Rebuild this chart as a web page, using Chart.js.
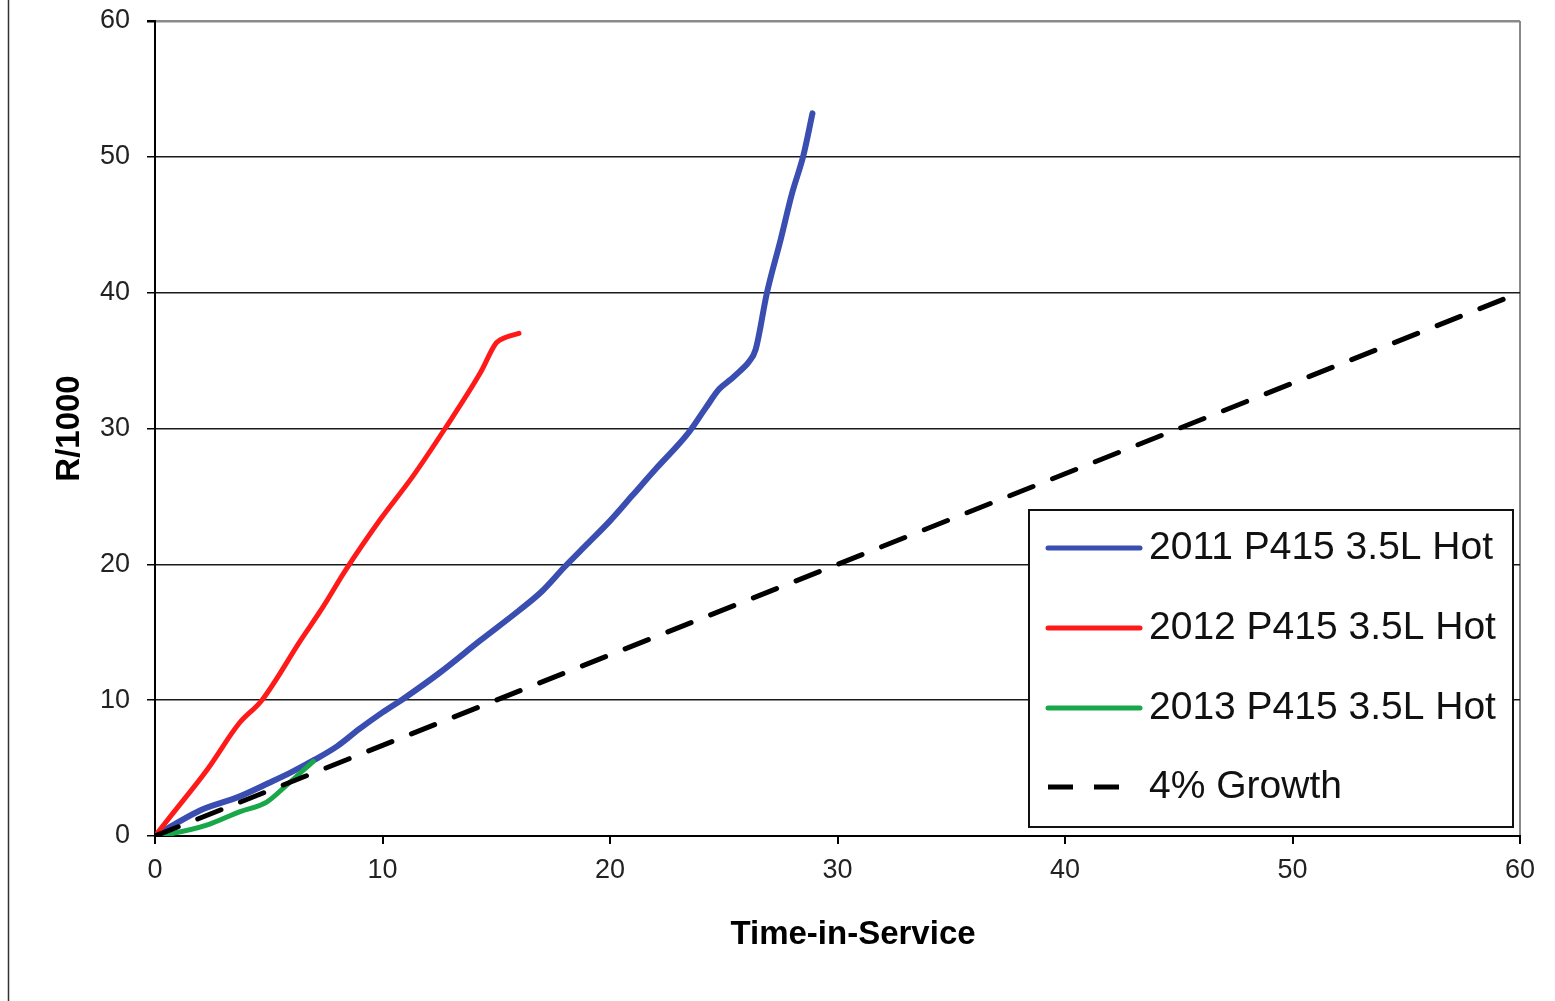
<!DOCTYPE html>
<html>
<head>
<meta charset="utf-8">
<script src="https://cdn.jsdelivr.net/npm/chart.js@4.4.1/dist/chart.umd.min.js"></script>
<style>
  html, body { margin: 0; padding: 0; background: #fff; }
  canvas { display: block; }
</style>
</head>
<body>
<canvas id="grafico" width="1555" height="1001"></canvas>
<script>
// series (x = time-in-service, y = R/1000)
var series2011X = [0, 0.8, 2, 3.7, 5, 6, 7, 8, 9, 10, 11, 12.5, 14.3, 16, 17, 18, 19, 20, 21, 22, 23, 23.5, 24.2, 24.8, 25.3, 25.7, 26.1, 26.4, 26.9, 27.5, 28, 28.5, 28.9];
var series2011Y = [0, 0.8, 1.9, 2.9, 3.9, 4.7, 5.6, 6.6, 7.9, 9.1, 10.2, 12, 14.4, 16.6, 18, 19.8, 21.5, 23.2, 25.1, 27, 28.8, 29.8, 31.5, 32.9, 33.6, 34.2, 34.9, 35.8, 40, 43.9, 47.3, 50.1, 53.2];

var series2012X = [0, 0.8, 2.3, 3.7, 4.7, 6.4, 7.4, 8.35, 9.9, 11.3, 12.75, 14.3, 15, 15.4, 16];
var series2012Y = [0, 1.7, 4.9, 8.3, 10, 14.4, 16.9, 19.5, 23.3, 26.4, 30, 34.1, 36.3, 36.7, 37];

var series2013X = [0, 0.8, 2.27, 3.74, 4.91, 5.79, 6.96];
var series2013Y = [0, 0.2, 0.8, 1.8, 2.5, 3.75, 5.5];

var growthX = [0, 60];
var growthY = [0, 40];

var etiquetas = ['2011 P415 3.5L Hot', '2012 P415 3.5L Hot', '2013 P415 3.5L Hot', '4% Growth'];
var tituloX = 'Time-in-Service';
var tituloY = 'R/1000';

function puntos(xs, ys) {
    return xs.map(function (x, i) { return { x: x, y: ys[i] }; });
}

Chart.defaults.font.family = 'Arial, "Liberation Sans", sans-serif';

/* legend box inside the plot, x title, left page border */
var leyendaPlugin = {
    id: 'leyenda',
    beforeDraw: function (chart) {
        var c = chart.ctx;
        c.save();
        c.strokeStyle = '#333';
        c.lineWidth = 1.5;
        c.beginPath();
        c.moveTo(8.5, 0);
        c.lineTo(8.5, 1001);
        c.stroke();
        c.restore();
    },
    afterDraw: function (chart) {
        var c = chart.ctx;
        c.save();
        c.fillStyle = '#000';
        c.font = 'bold 33px Arial, "Liberation Sans", sans-serif';
        c.textAlign = 'center';
        c.textBaseline = 'middle';
        c.fillText(tituloX, 853, 935);

        c.fillStyle = '#fff';
        c.fillRect(1028, 509, 486, 319);
        c.strokeStyle = '#111';
        c.lineWidth = 2;
        c.strokeRect(1029, 510, 484, 317);
        var filas = [548, 628, 708, 787];
        chart.data.datasets.forEach(function (ds, i) {
            var y = filas[i];
            c.strokeStyle = ds.borderColor;
            c.lineWidth = 5;
            c.lineCap = ds.borderDash ? 'butt' : 'round';
            c.setLineDash(ds.borderDash || []);
            c.beginPath();
            c.moveTo(1048, y);
            c.lineTo(1140, y);
            c.stroke();
            c.setLineDash([]);
            c.fillStyle = '#111';
            c.font = '39px Arial, "Liberation Sans", sans-serif';
            c.textBaseline = 'middle';
            c.textAlign = 'left';
            c.fillText(ds.label, 1149, y);
        });
        c.restore();
    }
};

var ctx = document.getElementById('grafico');
var grafico = new Chart(ctx, {
    type: 'line',
    data: {
        datasets: [
            {
                label: etiquetas[0],
                data: puntos(series2011X, series2011Y),
                borderColor: '#3a4db1',
                borderWidth: 6,
                cubicInterpolationMode: 'monotone',
                order: 4
            },
            {
                label: etiquetas[1],
                data: puntos(series2012X, series2012Y),
                borderColor: '#ff1a1a',
                borderWidth: 5,
                cubicInterpolationMode: 'monotone',
                order: 3
            },
            {
                label: etiquetas[2],
                data: puntos(series2013X, series2013Y),
                borderColor: '#18a84a',
                borderWidth: 5,
                cubicInterpolationMode: 'monotone',
                order: 2
            },
            {
                label: etiquetas[3],
                data: puntos(growthX, growthY),
                borderColor: '#000',
                borderWidth: 5,
                borderDash: [25, 21],
                order: 1
            }
        ]
    },
    options: {
        responsive: false,
        animation: false,
        layout: { padding: { top: 21, right: 35, left: 0, bottom: 0 } },
        elements: { point: { radius: 0 }, line: { borderCapStyle: 'round', borderJoinStyle: 'round' } },
        plugins: { legend: { display: false }, tooltip: { enabled: false } },
        scales: {
            x: {
                type: 'linear', min: 0, max: 60,
                ticks: { stepSize: 10, padding: 10, color: '#222', font: { size: 27 } },
                grid: {
                    color: function (c) { return c.tick && c.tick.value === 60 ? '#8a8a8a' : 'rgba(0,0,0,0)'; },
                    tickColor: '#000', tickLength: 8, lineWidth: 2
                },
                border: { color: '#000', width: 2 },
                title: { display: false },
                afterFit: function (s) { s.height = 165; s.paddingLeft = 0; s.paddingRight = 0; }
            },
            y: {
                min: 0, max: 60,
                ticks: { stepSize: 10, padding: 17, color: '#222', font: { size: 27 } },
                grid: {
                    color: function (c) { return c.tick && c.tick.value === 60 ? '#8a8a8a' : '#1a1a1a'; },
                    tickColor: '#000', tickLength: 8, lineWidth: function (c) { return c.tick && c.tick.value === 60 ? 2.5 : 1.5; }
                },
                border: { color: '#000', width: 2 },
                title: { display: true, text: tituloY, color: '#000', font: { size: 33, weight: 'bold' }, padding: { top: 50 } },
                afterFit: function (s) { s.width = 155; s.paddingTop = 0; s.paddingBottom = 0; }
            }
        }
    },
    plugins: [leyendaPlugin]
});
</script>
</body>
</html>
